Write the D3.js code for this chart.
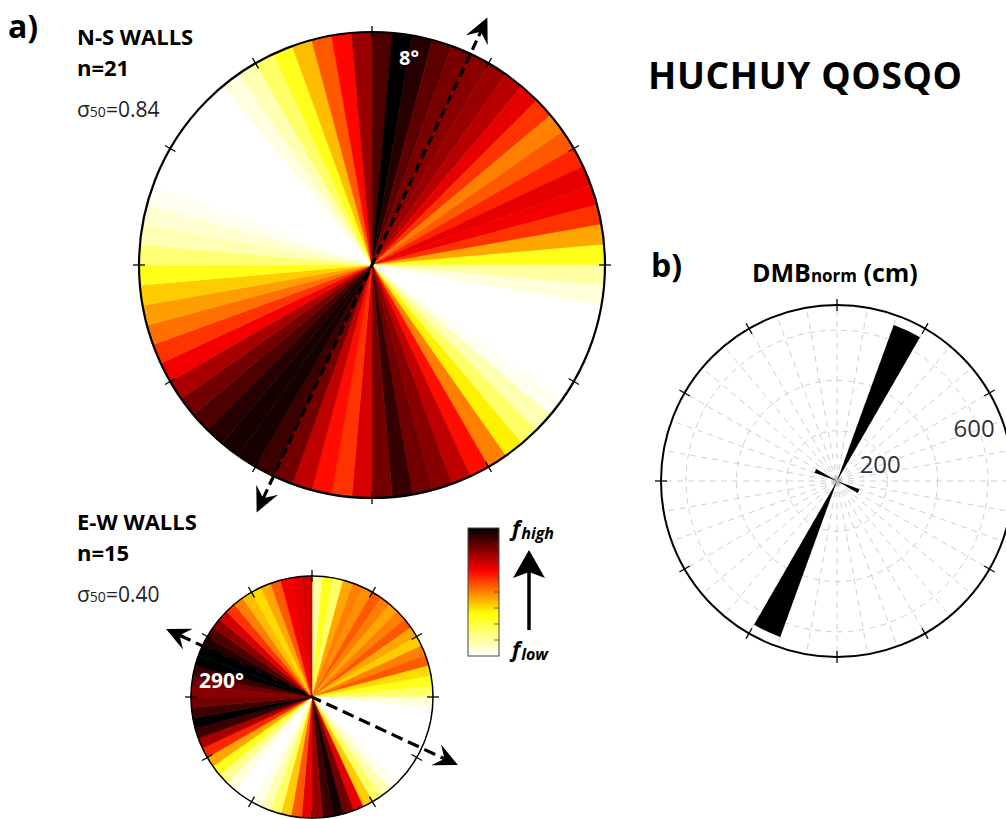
<!DOCTYPE html>
<html><head><meta charset="utf-8">
<script src="https://cdn.jsdelivr.net/npm/d3@7"></script>
<style>body{margin:0;background:#fff} text{font-family:"Open Sans",sans-serif}</style>
</head><body><svg id="c" width="1006" height="819"></svg>
<script>
// ---------- DATA ----------
// Normalised frequency (0 = low, 1 = high) in 5° bins, clockwise from north
const binWidth = 5;
const nsFreq = [
  0.9, 1.0, 0.95, 0.88, 0.84, 0.82, 0.8, 0.76, 0.7, 0.6, 0.5, 0.55, 0.62, 0.7, 0.68, 0.6, 0.45, 0.3,
  0.12, 0.05, 0, 0, 0, 0, 0, 0.02, 0.1, 0.2, 0.35, 0.5, 0.65, 0.75, 0.82, 0.85, 0.93, 0.85,
  0.72, 0.6, 0.65, 0.75, 0.85, 0.92, 0.97, 0.97, 0.95, 0.9, 0.85, 0.78, 0.68, 0.6, 0.52, 0.46, 0.4, 0.3,
  0.18, 0.1, 0.06, 0.02, 0, 0, 0, 0, 0, 0, 0.04, 0.1, 0.2, 0.3, 0.42, 0.55, 0.66, 0.8
];
const ewFreq = [
  0.12, 0.3, 0.2, 0.45, 0.5, 0.48, 0.55, 0.5, 0.45, 0.5, 0.55, 0.45, 0.4, 0.5, 0.55, 0.38, 0.3, 0.2,
  0.05, 0, 0, 0, 0, 0, 0, 0, 0, 0.03, 0.1, 0.2, 0.4, 0.7, 0.85, 0.97, 0.92, 0.8,
  0.7, 0.55, 0.4, 0.2, 0.1, 0.03, 0, 0, 0.05, 0.15, 0.3, 0.45, 0.62, 0.78, 0.92, 1.0, 0.92, 0.85,
  0.82, 0.85, 0.92, 1.0, 1.0, 0.95, 0.9, 0.82, 0.72, 0.6, 0.5, 0.42, 0.38, 0.45, 0.55, 0.68, 0.7, 0.72
];
const nsMeanDir = 25;   // dashed orientation line (deg)
const ewMeanDir = 115;
const nsLabel = ["N-S WALLS", "n=21", "0.84", "8°"];
const ewLabel = ["E-W WALLS", "n=15", "0.40", "290°"];
// DMBnorm rose, 10° bins, cm
const dmbBinWidth = 10;
const dmbValues = [0,0,660,0,0,0,0,0,0,0,0,95,0,0,0,0,0,0,0,0,660,0,0,0,0,0,0,0,0,95,0,0,0,0,0,0];
const dmbMax = 700;
const dmbRings = [200, 400, 600];
const dmbTickLabels = [200, 600];
const cbTicks = [1, 2, 3, 4, 5, 6, 7];

// ---------- DRAW ----------
const svg = d3.select("#c");
svg.append("rect").attr("width",1006).attr("height",819).attr("fill","#fff");
const rad = d => d * Math.PI / 180;
const hot = d3.scaleLinear().domain([0, 1/3, 2/3, 1]).range(["#ffffff", "#ffff00", "#ff0000", "#000000"]).clamp(true);

function arrowHead(g, x, y, ang, size) {
  const s = size;
  const pts = [[0,0],[-s,-0.48*s],[-0.62*s,0],[-s,0.48*s]];
  g.append("path")
    .attr("d", d3.line()(pts) + "Z")
    .attr("fill", "#000")
    .attr("transform", `translate(${x},${y}) rotate(${ang - 90})`);
}

function rose(cx, cy, R, freq, meanDir, tipDist, sw, dash, headSize) {
  const g = svg.append("g").attr("transform", `translate(${cx},${cy})`);
  const arc = d3.arc().innerRadius(0).outerRadius(R);
  g.selectAll("path.sec").data(freq).join("path")
    .attr("class","sec")
    .attr("d", (d,i) => arc({startAngle: rad(i*binWidth), endAngle: rad((i+1)*binWidth)}))
    .attr("fill", d => hot(d)).attr("stroke", d => hot(d)).attr("stroke-width", 0.6);
  g.append("circle").attr("r", R).attr("fill","none").attr("stroke","#000").attr("stroke-width", sw);
  d3.range(0, 360, 30).forEach(a => {
    const t = 6;
    g.append("line")
      .attr("x1", (R - t) * Math.sin(rad(a))).attr("y1", -(R - t) * Math.cos(rad(a)))
      .attr("x2", (R + t) * Math.sin(rad(a))).attr("y2", -(R + t) * Math.cos(rad(a)))
      .attr("stroke","#000").attr("stroke-width",1.3);
  });
  const ux = Math.sin(rad(meanDir)), uy = -Math.cos(rad(meanDir));
  const base = tipDist - headSize * 0.62;
  g.append("line")
    .attr("x1", -ux*base).attr("y1", -uy*base).attr("x2", ux*base).attr("y2", uy*base)
    .attr("stroke","#000").attr("stroke-width",3.2).attr("stroke-dasharray", dash);
  arrowHead(g, ux*tipDist, uy*tipDist, meanDir, headSize);
  arrowHead(g, -ux*tipDist, -uy*tipDist, meanDir + 180, headSize);
  return g;
}

const big = rose(372, 265, 233, nsFreq, nsMeanDir, 273, 2.2, "10,5", 25);
big.append("text").attr("x", 27).attr("y", -200).attr("fill","#fff").attr("font-weight",700).attr("font-size",20).text(nsLabel[3]);
const small = rose(312, 697, 121, ewFreq, ewMeanDir, 161, 1.5, "12,6", 24);
small.append("text").attr("x", -113).attr("y", -9).attr("fill","#fff").attr("font-weight",700).attr("font-size",21).text(ewLabel[3]);

svg.append("text").attr("x",8).attr("y",38).attr("font-weight",700).attr("font-size",32).text("a)");
function block(x, y0, lab) {
  svg.append("text").attr("x",x).attr("y",y0).attr("font-weight",700).attr("font-size",22).text(lab[0]);
  svg.append("text").attr("x",x).attr("y",y0+31).attr("font-weight",700).attr("font-size",22).text(lab[1]);
  const t = svg.append("text").attr("x",x).attr("y",y0+72).attr("font-size",21).attr("fill","#222");
  t.append("tspan").text("σ");
  t.append("tspan").attr("font-size",14).text("50");
  t.append("tspan").text("=" + lab[2]);
}
block(77, 45, nsLabel);
block(77, 530, ewLabel);

svg.append("text").attr("x",648).attr("y",89).attr("font-weight",700).attr("font-size",37)
  .attr("textLength",314).attr("lengthAdjust","spacing").text("HUCHUY QOSQO");

// colorbar
const defs = svg.append("defs");
const grad = defs.append("linearGradient").attr("id","cb").attr("x1",0).attr("y1",1).attr("x2",0).attr("y2",0);
[0, 1/3, 2/3, 1].forEach(o => grad.append("stop").attr("offset", o).attr("stop-color", hot(o)));
const cbY = d3.scaleLinear().domain([0, 8]).range([656, 528]);
svg.append("rect").attr("x",468).attr("y",528).attr("width",31).attr("height",128).attr("fill","url(#cb)").attr("stroke","#444").attr("stroke-width",1);
cbTicks.forEach(t => svg.append("line").attr("x1",494).attr("x2",499).attr("y1",cbY(t)).attr("y2",cbY(t)).attr("stroke","#444").attr("stroke-width",0.8));
function fLabel(x, y, sub) {
  const t = svg.append("text").attr("x",x).attr("y",y).attr("font-weight",700).attr("font-style","italic").attr("font-size",22);
  t.append("tspan").text("f");
  t.append("tspan").attr("font-size",16).attr("dy",3).attr("dx",1).text(sub);
}
fLabel(512, 536, "high");
fLabel(512, 657, "low");
svg.append("line").attr("x1",529).attr("x2",529).attr("y1",630).attr("y2",572).attr("stroke","#000").attr("stroke-width",3.5);
svg.append("path").attr("d","M529,550 L545,578 L529,572 L513,578 Z").attr("fill","#000");

// panel b
svg.append("text").attr("x",651).attr("y",277).attr("font-weight",700).attr("font-size",32).text("b)");
const tt = svg.append("text").attr("x",752).attr("y",282).attr("font-weight",700).attr("font-size",25);
tt.append("tspan").text("DMB");
tt.append("tspan").attr("font-size",17).text("norm");
tt.append("tspan").text(" (cm)");

const pcx = 837, pcy = 481, PR = 176;
const rS = d3.scaleLinear().domain([0, dmbMax]).range([0, PR]);
const pg = svg.append("g").attr("transform", `translate(${pcx},${pcy})`);
const gridCol = "#cfcfcf";
d3.range(0, 360, 10).forEach(a => {
  pg.append("line").attr("x1",0).attr("y1",0)
    .attr("x2", PR*Math.sin(rad(a))).attr("y2", -PR*Math.cos(rad(a)))
    .attr("stroke", gridCol).attr("stroke-width",1).attr("stroke-dasharray","6,5");
});
dmbRings.forEach(v => pg.append("circle").attr("r", rS(v)).attr("fill","none").attr("stroke",gridCol).attr("stroke-width",1).attr("stroke-dasharray","6,5"));
pg.append("circle").attr("r", 4).attr("fill","#bbb").attr("opacity",0.6);
const parc = d3.arc().innerRadius(0);
pg.selectAll("path.pet").data(dmbValues).join("path").attr("class","pet")
  .attr("d", (d,i) => d > 0 ? parc({startAngle: rad(i*dmbBinWidth), endAngle: rad((i+1)*dmbBinWidth), outerRadius: rS(d)}) : null)
  .attr("fill","#000");
pg.append("circle").attr("r", PR).attr("fill","none").attr("stroke","#000").attr("stroke-width",2);
d3.range(0, 360, 30).forEach(a => {
  pg.append("line")
    .attr("x1",(PR-6)*Math.sin(rad(a))).attr("y1",-(PR-6)*Math.cos(rad(a)))
    .attr("x2",(PR+6)*Math.sin(rad(a))).attr("y2",-(PR+6)*Math.cos(rad(a)))
    .attr("stroke","#000").attr("stroke-width",1.3);
});
dmbTickLabels.forEach(v => {
  const r = rS(v) - 4, a = rad(21);
  pg.append("text").attr("x", r*Math.cos(a)).attr("y", -r*Math.sin(a)).attr("dy","0.35em")
    .attr("text-anchor","middle").attr("font-size",24).attr("fill","#333").text(v);
});
</script></body></html>
